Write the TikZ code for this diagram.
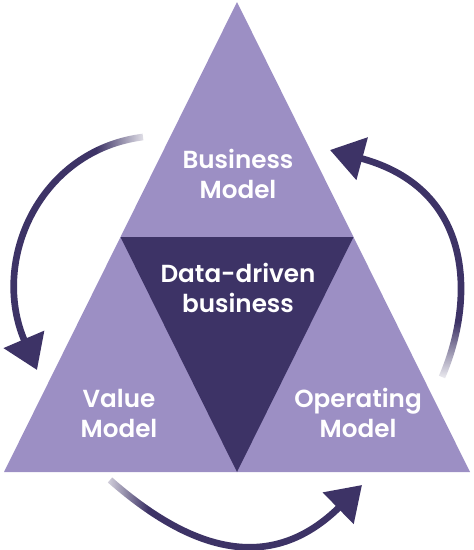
\documentclass[tikz,border=0pt]{standalone}
\usepackage{fontspec}
\setmainfont{Poppins}
\newfontfamily\labelfont{Poppins SemiBold}
\usepackage{xcolor}
\usetikzlibrary{calc}
\usetikzlibrary{arrows.meta}
\usetikzlibrary{fadings}
\definecolor{lightpurple}{HTML}{9C8FC4}
\definecolor{darkpurple}{HTML}{3D3366}

\begin{document}
\begin{tikzpicture}[x=0.75pt,y=-0.75pt,
	txt/.style={text=white,align=center,inner sep=0pt,font=\labelfont\fontsize{18.5}{22.5}\selectfont},
	cyclearrow/.style={line width=5pt,darkpurple,-{Triangle[length=25pt,width=32pt]}}]
	\useasboundingbox (0,0) rectangle (474,550);
	
	% triangle corners
	\coordinate (top) at (237,2);
	\coordinate (left) at (4,472);
	\coordinate (right) at (470,472);
	\coordinate (midleft) at ($(top)!0.5!(left)$);
	\coordinate (midright) at ($(top)!0.5!(right)$);
	\coordinate (midbottom) at ($(left)!0.5!(right)$);
	
	%triangles
	\fill[lightpurple] (top) -- (right) -- (left) -- cycle;
	\fill[darkpurple] (midleft) -- (midright) -- (midbottom) -- cycle;
	
	%labels
	\node[txt] (business) at (238,174) {Business\\Model};
	\node[txt] (core) at (238,288) {Data-driven\\business};
	\node[txt] (value) at (119,413) {Value\\Model};
	\node[txt] (operating) at (358,413) {Operating\\Model};
	
	%cycle arrows
	\coordinate (bvtail) at (143,137);
	\coordinate (bvtip) at (37,370);
	\coordinate (votail) at (110,480);
	\coordinate (votip) at (362,485);
	\coordinate (obtail) at (442,377);
	\coordinate (obtip) at (330,150);
	
	\draw[cyclearrow] (bvtail) .. controls (40,150) and (-10,260) .. (bvtip);
	\draw[cyclearrow] (votail) .. controls (200,559) and (276,569) .. (votip);
	\draw[cyclearrow] (obtail) .. controls (475,300) and (475,189) .. (obtip);
	
	%faded tails
	\fill[white,path fading=west] (96,124) rectangle (152,158);
	\fill[white,path fading=east] (96,474) rectangle (148,518);
	\fill[white,path fading=north] (434,322) rectangle (474,384);
	
\end{tikzpicture}
\end{document}
